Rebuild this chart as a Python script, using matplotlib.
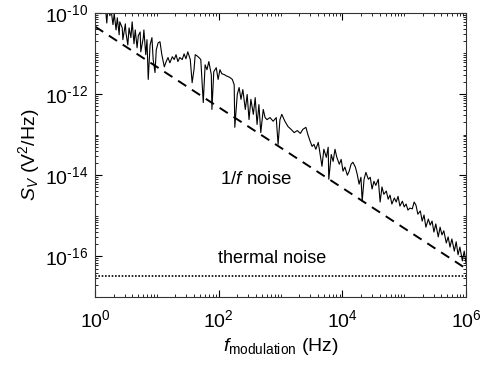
import matplotlib
matplotlib.use("Agg")
import matplotlib.pyplot as plt
import numpy as np
from matplotlib.ticker import LogLocator, NullFormatter, FuncFormatter

plt.rcParams['font.family'] = ['Liberation Sans', 'DejaVu Sans']
plt.rcParams['mathtext.fontset'] = 'custom'
plt.rcParams['mathtext.rm'] = 'Liberation Sans'
plt.rcParams['mathtext.it'] = 'Liberation Sans:italic'
plt.rcParams['axes.unicode_minus'] = False

# measured noise spectrum, log10 of frequency (Hz) and of S_V (V^2/Hz)
log_f = [0.00, 0.03, 0.06, 0.10, 0.13, 0.16, 0.19, 0.21, 0.24, 0.26, 0.29, 0.31,
         0.34, 0.36, 0.39, 0.40, 0.44, 0.45, 0.49, 0.50, 0.53, 0.55, 0.58, 0.60,
         0.63, 0.65, 0.68, 0.70, 0.73, 0.74, 0.78, 0.79, 0.82, 0.84, 0.86, 0.89,
         0.92, 0.94, 0.97, 0.99, 1.02, 1.05, 1.08, 1.12, 1.15, 1.18, 1.21, 1.25,
         1.28, 1.31, 1.34, 1.37, 1.41, 1.44, 1.47, 1.50, 1.54, 1.57, 1.60, 1.62,
         1.65, 1.68, 1.71, 1.75, 1.78, 1.81, 1.84, 1.88, 1.89, 1.92, 1.96, 1.99,
         2.02, 2.05, 2.09, 2.12, 2.15, 2.18, 2.22, 2.25, 2.26, 2.30, 2.33, 2.36,
         2.39, 2.43, 2.46, 2.49, 2.52, 2.56, 2.59, 2.62, 2.65, 2.68, 2.72, 2.75,
         2.78, 2.83, 2.88, 2.93, 2.96, 2.99, 3.02, 3.07, 3.12, 3.17, 3.22, 3.27,
         3.32, 3.36, 3.41, 3.44, 3.48, 3.51, 3.54, 3.57, 3.61, 3.64, 3.67, 3.70,
         3.74, 3.77, 3.78, 3.82, 3.85, 3.88, 3.91, 3.95, 3.98, 4.01, 4.04, 4.08,
         4.11, 4.14, 4.17, 4.21, 4.24, 4.27, 4.30, 4.32, 4.35, 4.38, 4.42, 4.45,
         4.48, 4.51, 4.54, 4.58, 4.61, 4.64, 4.67, 4.71, 4.74, 4.77, 4.80, 4.84,
         4.87, 4.90, 4.93, 4.97, 5.00, 5.03, 5.06, 5.09, 5.13, 5.16, 5.19, 5.22,
         5.26, 5.29, 5.32, 5.35, 5.39, 5.42, 5.45, 5.48, 5.51, 5.55, 5.58, 5.61,
         5.64, 5.68, 5.71, 5.74, 5.77, 5.81, 5.84, 5.87, 5.90, 5.94, 5.97, 6.00]
log_s = [-9.73, -9.68, -9.88, -9.75, -9.97, -9.73, -10.25, -9.83, -10.07, -9.93, -10.29, -10.02,
         -10.42, -10.12, -10.54, -10.22, -10.37, -10.66, -10.27, -10.49, -10.79, -10.37, -10.61, -10.22,
         -10.76, -10.42, -10.86, -10.56, -10.47, -10.96, -10.61, -10.42, -11.03, -10.66, -11.64, -10.79,
         -10.61, -11.15, -11.47, -10.91, -10.74, -10.71, -11.03, -11.33, -11.20, -11.10, -11.23, -11.08,
         -11.15, -11.03, -11.20, -11.10, -11.15, -11.01, -11.13, -10.96, -11.15, -11.72, -11.40, -11.03,
         -11.06, -11.10, -11.15, -12.21, -11.28, -11.40, -11.20, -11.52, -12.38, -11.45, -11.35, -11.64,
         -11.40, -11.50, -11.52, -11.55, -11.57, -11.59, -11.64, -11.77, -12.82, -12.01, -11.84, -12.13,
         -11.89, -12.38, -12.01, -12.63, -12.13, -12.50, -12.09, -12.75, -12.26, -12.95, -12.38, -12.58,
         -12.63, -12.58, -12.67, -12.58, -13.24, -12.63, -12.50, -12.67, -12.80, -12.87, -12.95, -12.90,
         -12.97, -12.87, -12.82, -12.99, -13.17, -13.29, -13.24, -13.36, -13.19, -13.49, -13.78, -13.36,
         -13.56, -13.31, -14.10, -13.49, -13.66, -13.36, -13.56, -13.73, -13.61, -13.90, -13.80, -14.00,
         -13.90, -13.73, -13.68, -13.80, -13.98, -14.22, -14.05, -14.64, -14.10, -13.93, -14.10, -14.05,
         -14.34, -14.15, -14.25, -14.10, -14.66, -14.29, -14.47, -14.39, -14.59, -14.49, -14.71, -14.56,
         -14.66, -14.52, -14.76, -14.64, -14.78, -14.71, -14.86, -14.81, -14.83, -14.66, -14.74, -14.96,
         -14.88, -15.13, -14.98, -15.28, -15.08, -15.23, -15.13, -15.40, -15.20, -15.52, -15.28, -15.47,
         -15.37, -15.67, -15.52, -15.77, -15.57, -15.87, -15.64, -15.96, -15.77, -16.11, -15.87, -16.18]

# 1/f fit end points and thermal noise floor
fit_f = [1.0, 1e6]
fit_s = [4.6e-11, 5.0e-17]
thermal_level = 3.2e-17

freq = 10.0 ** np.array(log_f)
spec = 10.0 ** np.array(log_s)


def pow10_label(v, pos):
    # MATLAB-like "10^-12" with a plain hyphen in the exponent
    e = int(round(np.log10(v)))
    return r"$\mathregular{10}^{\text{%d}}$" % e


fig = plt.figure(figsize=(4.8, 3.68), dpi=100)
ax = fig.add_axes([0.198, 0.193, 0.773, 0.772])

ax.loglog(freq, spec, color="black", linewidth=0.8)
ax.loglog(fit_f, fit_s, color="black", linestyle=(0, (5, 3.5)), linewidth=1.4)
ax.axhline(thermal_level, color="black", linestyle=(0, (1, 1)), linewidth=1.2)

ax.set_xlim(1, 1e6)
ax.set_ylim(1e-17, 1e-10)

ax.xaxis.set_major_locator(LogLocator(base=100, numticks=10))
ax.yaxis.set_major_locator(LogLocator(base=100, numticks=10))
ax.xaxis.set_minor_locator(LogLocator(base=10, subs=np.arange(1, 10), numticks=20))
ax.yaxis.set_minor_locator(LogLocator(base=10, subs=np.arange(1, 10), numticks=20))
ax.xaxis.set_major_formatter(FuncFormatter(pow10_label))
ax.yaxis.set_major_formatter(FuncFormatter(pow10_label))
ax.xaxis.set_minor_formatter(NullFormatter())
ax.yaxis.set_minor_formatter(NullFormatter())

ax.tick_params(which="both", direction="in", top=True, right=True, labelsize=14)
ax.tick_params(axis="x", which="major", pad=9)
ax.tick_params(axis="y", which="major", pad=5)
ax.tick_params(which="major", length=5, width=0.8)
ax.tick_params(which="minor", length=2.5, width=0.6)
for sp in ax.spines.values():
    sp.set_linewidth(0.8)
    sp.set_color("#333333")

ax.set_xlabel(r"$f_{\rm modulation}$ (Hz)", fontsize=14, labelpad=3)
ax.set_ylabel(r"$S_V$ (V$^2$/Hz)", fontsize=14, labelpad=2)

ax.text(10 ** 2.02, 10 ** -14.10, r"1/$f$ noise", fontsize=13.5, va="center")
ax.text(10 ** 1.99, 10 ** -16.06, "thermal noise", fontsize=13, va="center")

fig.savefig("out.png", dpi=100)
